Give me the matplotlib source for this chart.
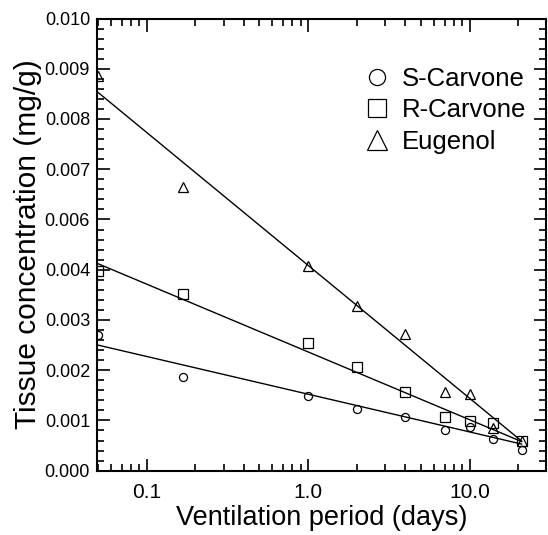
import numpy as np
import matplotlib
matplotlib.use("Agg")
import matplotlib.pyplot as plt
from matplotlib.ticker import FixedLocator, FixedFormatter, NullFormatter

plt.rcParams['font.family'] = ['Liberation Sans', 'DejaVu Sans']

# ---- data ----
days = [0.05, 0.167, 1, 2, 4, 7, 10, 14, 21]
s_carvone = [0.00270, 0.00186, 0.00149, 0.00123, 0.00107, 0.00080, 0.00086, 0.00064, 0.00041]
r_carvone = [0.00398, 0.00351, 0.00254, 0.00206, 0.00156, 0.00107, 0.00098, 0.00094, 0.00059]
eugenol = [0.00885, 0.00665, 0.00414, 0.00328, 0.00272, 0.00156, 0.00152, 0.00084, 0.00060]

fit_x = [0.05, 21]
s_fit = [0.00250, 0.00053]
r_fit = [0.00424, 0.00058]
e_fit = [0.00853, 0.00059]

y_ticks = [0.000, 0.001, 0.002, 0.003, 0.004, 0.006, 0.007, 0.008, 0.009, 0.010]
y_tick_labels = ['0.000', '0.001', '0.002', '0.003', '0.004',
                 '0.006', '0.007', '0.008', '0.009', '0.010']
x_ticks = [0.1, 1.0, 10.0]
x_tick_labels = ['0.1', '1.0', '10.0']

# ---- axis with the original's label sequence (0.005 skipped) ----
def fwd(v):
    v = np.asarray(v, dtype=float)
    return np.where(v <= 0.004, v,
                    np.where(v >= 0.006, v - 0.001, 0.004 + (v - 0.004) * 0.5))

def inv(p):
    p = np.asarray(p, dtype=float)
    return np.where(p <= 0.004, p,
                    np.where(p >= 0.005, p + 0.001, 0.004 + (p - 0.004) * 2.0))

fig = plt.figure(figsize=(5.48, 5.35), dpi=100)
ax = fig.add_axes([0.177, 0.1202, 0.997 - 0.177, 0.9654 - 0.1202])

ax.set_xscale('log')
ax.set_yscale('function', functions=(fwd, inv))

mk = dict(linestyle='none', markerfacecolor='none', markeredgecolor='black',
          markeredgewidth=0.9)
ax.plot(days, s_carvone, marker='o', markersize=5.8, label='S-Carvone', **mk)
ax.plot(days, r_carvone, marker='s', markersize=6.8, label='R-Carvone', **mk)
ax.plot(days, eugenol, marker='^', markersize=7.0, label='Eugenol', **mk)

for fy in (s_fit, r_fit, e_fit):
    ax.plot(fit_x, fy, color='black', linewidth=1.0)

ax.set_xlim(0.0493, 29.9)
ax.set_ylim(0.0, 0.010)

ax.xaxis.set_major_locator(FixedLocator(x_ticks))
ax.xaxis.set_major_formatter(FixedFormatter(x_tick_labels))
minor_x = []
for dec in [0.01, 0.1, 1, 10]:
    for k in range(2, 10):
        v = dec * k
        if 0.0493 <= v <= 29.9:
            minor_x.append(v)
ax.xaxis.set_minor_locator(FixedLocator(minor_x))
ax.xaxis.set_minor_formatter(NullFormatter())

ax.yaxis.set_major_locator(FixedLocator(y_ticks))
ax.yaxis.set_major_formatter(FixedFormatter(y_tick_labels))
pos_minor = np.arange(0, 0.0090001, 0.0002)
pos_minor = [p for p in pos_minor if abs(p / 0.001 - round(p / 0.001)) > 1e-6]
ax.yaxis.set_minor_locator(FixedLocator(list(inv(pos_minor))))
ax.yaxis.set_minor_formatter(NullFormatter())

ax.tick_params(which='both', direction='in', top=True, right=True, width=1.2)
ax.tick_params(which='major', length=9)
ax.tick_params(which='minor', length=5)
ax.tick_params(axis='y', labelsize=13, pad=5)
ax.tick_params(axis='x', labelsize=15, pad=9)

for sp in ax.spines.values():
    sp.set_linewidth(1.5)

ax.set_xlabel('Ventilation period (days)', fontsize=19.5, labelpad=2)
ax.set_ylabel('Tissue concentration (mg/g)', fontsize=21.5, labelpad=2)

leg = ax.legend(loc='upper right', bbox_to_anchor=(0.978, 0.915), frameon=False,
                fontsize=18.5, handlelength=1.0, handletextpad=0.45,
                labelspacing=0.28, markerscale=2.0, borderaxespad=0.0)

fig.savefig('out.png', dpi=100)
